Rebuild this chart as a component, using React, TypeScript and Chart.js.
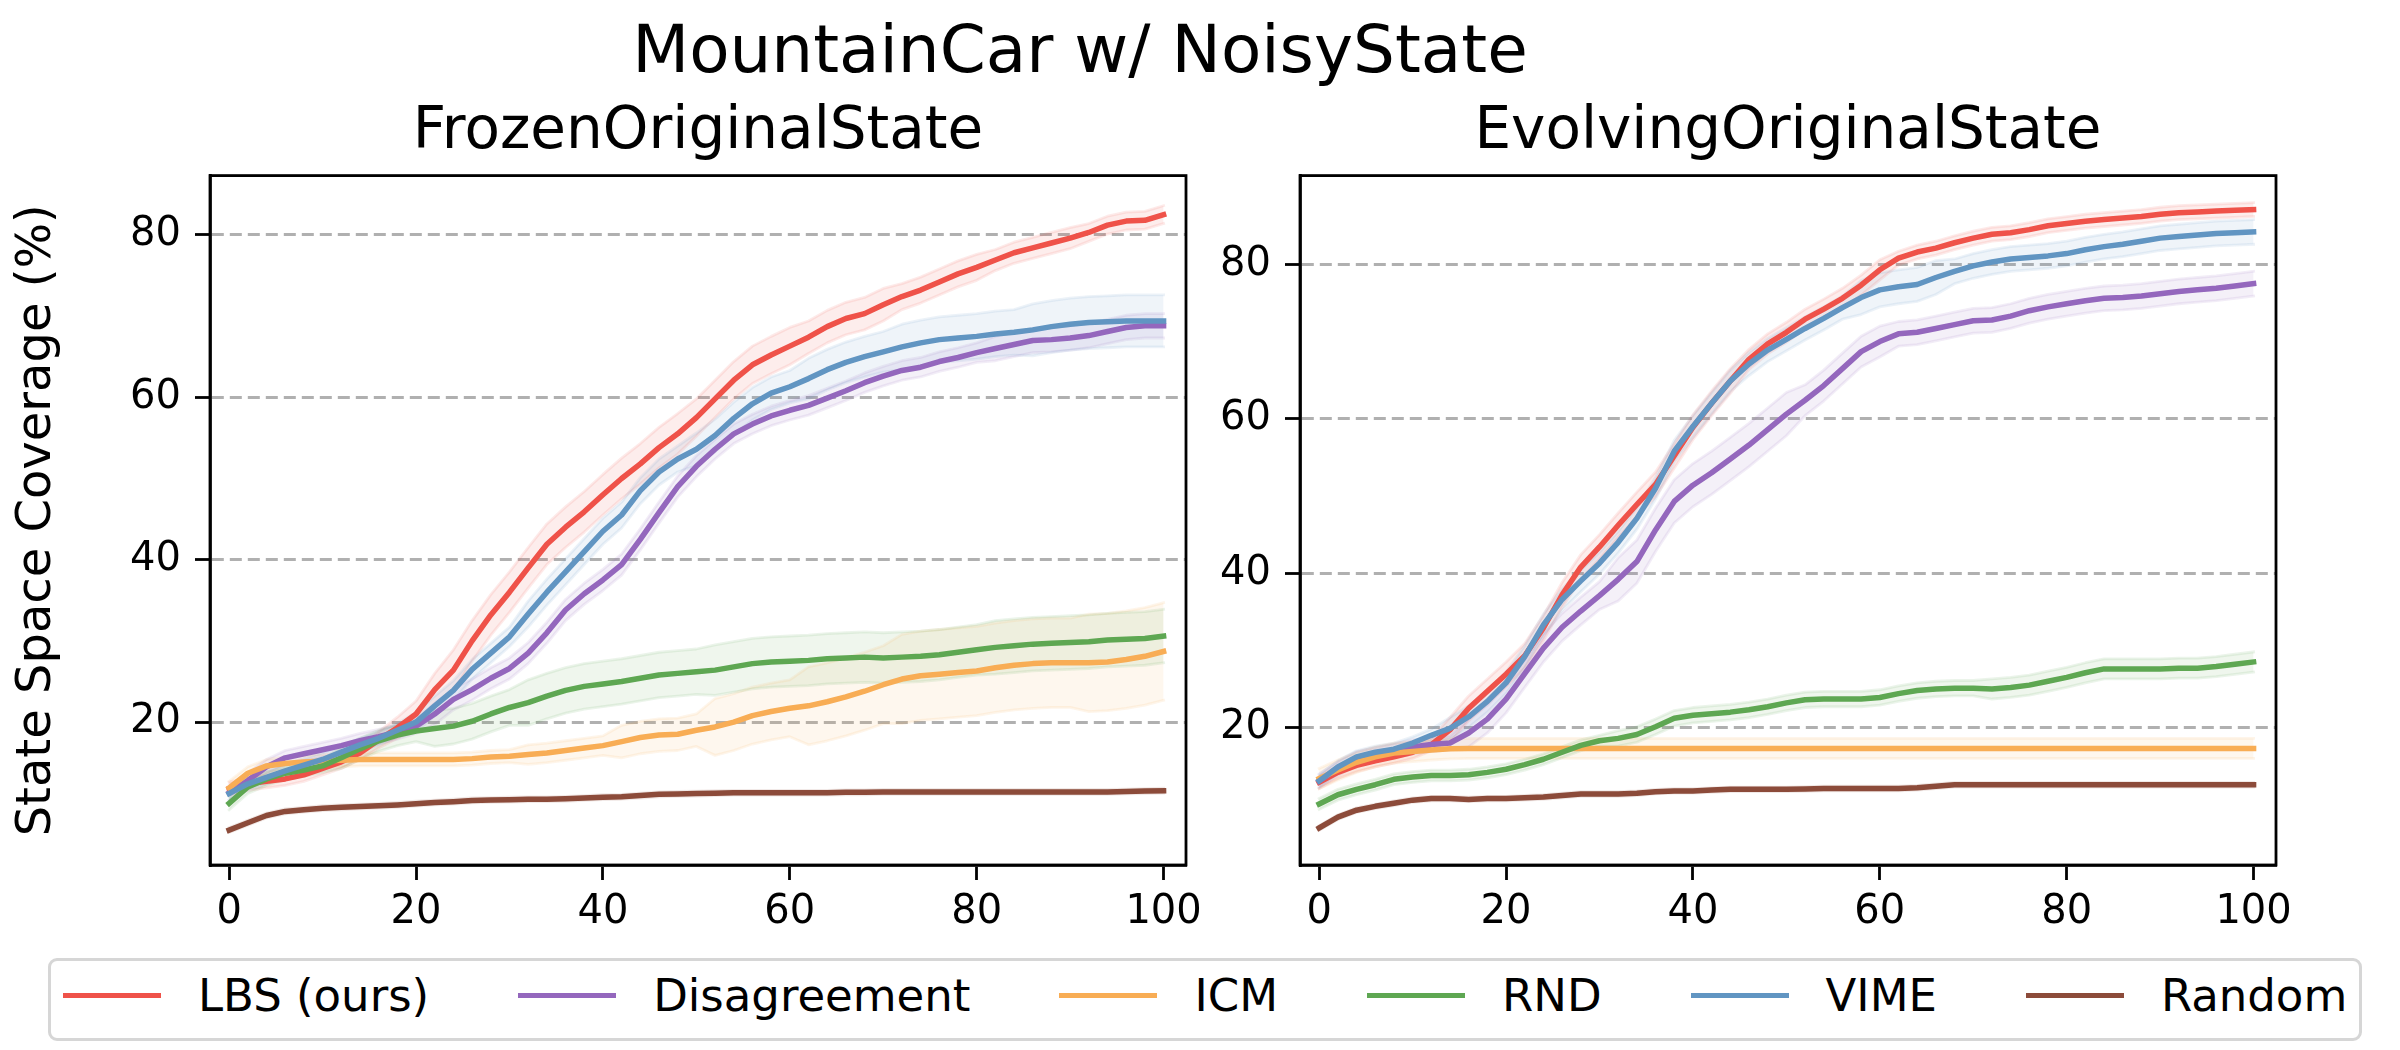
import React, { useEffect, useRef } from "react";
import { Chart, registerables } from "chart.js";

Chart.register(...registerables);

const FONT = "'DejaVu Sans', 'Noto Sans', sans-serif";

// ---------------- data ----------------
const xValues = [0, 2, 4, 6, 8, 10, 12, 14, 16, 18, 20, 22, 24, 26, 28, 30, 32, 34, 36, 38, 40, 42, 44, 46, 48, 50,
  52, 54, 56, 58, 60, 62, 64, 66, 68, 70, 72, 74, 76, 78, 80, 82, 84, 86, 88, 90, 92, 94, 96, 98, 100];
const xTicks = [0, 20, 40, 60, 80, 100];
const yTicks = [20, 40, 60, 80];

const seriesNames = ["LBS (ours)", "Disagreement", "ICM", "RND", "VIME", "Random"];
const seriesColors = ["#ef5249", "#9467bd", "#f8ad55", "#5ea752", "#6195c2", "#8c4b3a"];

const suptitleText = "MountainCar w/ NoisyState";
const leftTitle = "FrozenOriginalState";
const rightTitle = "EvolvingOriginalState";
const yLabel = "State Space Coverage (%)";

// FrozenOriginalState (left panel) means
const frozenLBS = [11.8, 12.4, 12.7, 13.0, 13.5, 14.3, 15.1, 16.2, 17.8, 19.3, 21.0, 24.0, 26.4, 30.0, 33.2, 36.0, 39.0,
  41.9, 44.0, 45.9, 48.0, 50.0, 51.8, 53.8, 55.5, 57.5, 59.8, 62.1, 64.0, 65.2, 66.3, 67.4, 68.7, 69.7, 70.3, 71.4, 72.4,
  73.2, 74.2, 75.2, 76.0, 76.9, 77.8, 78.4, 79.0, 79.6, 80.3, 81.2, 81.7, 81.8, 82.5];
const frozenDis = [11.3, 12.8, 14.5, 15.6, 16.1, 16.6, 17.1, 17.7, 18.2, 18.8, 19.5, 21.0, 22.8, 24.0, 25.4, 26.6, 28.5,
  31.0, 33.8, 35.8, 37.5, 39.4, 42.5, 45.8, 49.0, 51.5, 53.6, 55.5, 56.7, 57.7, 58.4, 59.0, 59.9, 60.8, 61.8, 62.6, 63.3,
  63.7, 64.4, 64.9, 65.5, 66.0, 66.5, 67.0, 67.1, 67.3, 67.6, 68.1, 68.6, 68.8, 68.8];
const frozenICM = [11.9, 13.7, 14.6, 14.9, 15.1, 15.2, 15.3, 15.4, 15.4, 15.4, 15.4, 15.4, 15.4, 15.5, 15.7, 15.8, 16.0,
  16.2, 16.5, 16.8, 17.1, 17.6, 18.1, 18.4, 18.5, 19.0, 19.4, 20.0, 20.8, 21.3, 21.7, 22.0, 22.5, 23.1, 23.8, 24.6, 25.3,
  25.7, 25.9, 26.1, 26.3, 26.7, 27.0, 27.2, 27.3, 27.3, 27.3, 27.4, 27.7, 28.1, 28.7];
const frozenRND = [10.0, 12.0, 13.0, 13.7, 14.1, 14.6, 15.6, 16.7, 17.7, 18.4, 18.9, 19.2, 19.5, 20.1, 21.0, 21.8, 22.4,
  23.2, 23.9, 24.4, 24.7, 25.0, 25.4, 25.8, 26.0, 26.2, 26.4, 26.8, 27.2, 27.4, 27.5, 27.6, 27.8, 27.9, 28.0, 27.9, 28.0,
  28.1, 28.3, 28.6, 28.9, 29.2, 29.4, 29.6, 29.7, 29.8, 29.9, 30.1, 30.2, 30.3, 30.6];
const frozenVIME = [11.2, 12.4, 13.2, 14.0, 14.7, 15.4, 16.3, 17.2, 18.0, 19.0, 20.0, 22.0, 23.9, 26.5, 28.5, 30.5, 33.3,
  36.0, 38.5, 41.0, 43.5, 45.5, 48.5, 50.8, 52.4, 53.6, 55.3, 57.4, 59.2, 60.5, 61.3, 62.3, 63.4, 64.3, 65.0, 65.6, 66.2,
  66.7, 67.1, 67.3, 67.5, 67.8, 68.0, 68.3, 68.7, 69.0, 69.2, 69.3, 69.4, 69.4, 69.4];
const frozenRandom = [6.7, 7.6, 8.5, 9.0, 9.2, 9.4, 9.5, 9.6, 9.7, 9.8, 9.95, 10.1, 10.2, 10.35, 10.4, 10.45, 10.5, 10.5,
  10.55, 10.65, 10.75, 10.8, 10.95, 11.1, 11.15, 11.2, 11.25, 11.3, 11.3, 11.3, 11.3, 11.3, 11.3, 11.35, 11.35, 11.4, 11.4,
  11.4, 11.4, 11.4, 11.4, 11.4, 11.4, 11.4, 11.4, 11.4, 11.4, 11.4, 11.45, 11.5, 11.55];

// FrozenOriginalState spreads (half band width)
const frozenLBSStd = [0.8, 0.8, 0.8, 0.8, 0.8, 0.8, 0.8, 0.8, 1.0, 1.3, 1.6, 2.0, 2.5, 2.5, 2.5, 2.5, 2.5, 2.5, 2.5, 2.5,
  2.5, 2.5, 2.5, 2.5, 2.5, 2.3, 2.3, 2.3, 2.3, 2.3, 2.3, 2.0, 2.0, 2.0, 2.0, 2.0, 1.6, 1.6, 1.6, 1.6, 1.6, 1.3, 1.3, 1.3,
  1.3, 1.3, 1.1, 1.1, 1.1, 1.1, 1.1];
const frozenDisStd = [0.9, 0.9, 0.9, 0.9, 0.9, 0.9, 0.9, 0.9, 0.9, 0.9, 0.9, 1.3, 1.3, 1.3, 1.3, 1.3, 1.3, 1.3, 1.3, 1.3,
  1.3, 1.3, 1.3, 1.3, 1.3, 1.3, 1.2, 1.2, 1.2, 1.2, 1.2, 1.2, 1.2, 1.2, 1.2, 1.2, 1.2, 1.2, 1.2, 1.2, 1.2, 1.5, 1.5, 1.5,
  1.5, 1.5, 1.5, 1.5, 1.5, 1.5, 1.5];
const frozenICMStd = [0.8, 0.8, 0.8, 0.8, 0.8, 0.8, 0.8, 0.8, 0.8, 0.8, 0.8, 0.8, 0.8, 0.8, 0.8, 0.8, 1.2, 1.2, 1.2, 1.2,
  1.2, 2.0, 2.0, 2.0, 2.0, 2.0, 3.5, 3.5, 3.5, 3.5, 3.5, 4.8, 4.8, 4.8, 4.8, 4.8, 5.5, 5.5, 5.5, 5.5, 5.5, 5.5, 5.5, 5.5,
  5.5, 5.5, 6.0, 6.0, 6.0, 6.0, 6.0];
const frozenRNDStd = [0.8, 0.8, 0.8, 0.8, 0.8, 0.8, 1.3, 1.3, 1.3, 1.3, 1.3, 2.2, 2.2, 2.2, 2.2, 2.2, 2.8, 2.8, 2.8, 2.8,
  2.8, 2.8, 2.8, 2.8, 2.8, 2.8, 3.1, 3.1, 3.1, 3.1, 3.1, 3.1, 3.1, 3.1, 3.1, 3.1, 3.1, 3.1, 3.1, 3.1, 3.1, 3.3, 3.3, 3.3,
  3.3, 3.3, 3.3, 3.3, 3.3, 3.3, 3.3];
const frozenVIMEStd = [0.8, 0.8, 0.8, 0.8, 0.8, 0.8, 0.8, 0.8, 0.8, 0.8, 1.2, 1.2, 1.2, 1.2, 1.2, 1.2, 1.6, 1.6, 1.6, 1.6,
  1.6, 1.6, 1.6, 1.6, 1.6, 2.0, 2.0, 2.0, 2.0, 2.0, 2.0, 2.5, 2.5, 2.5, 2.5, 2.5, 2.8, 2.8, 2.8, 2.8, 2.8, 2.8, 2.8, 3.2,
  3.2, 3.2, 3.2, 3.2, 3.2, 3.2, 3.2];
const frozenRandomStd = [0.3, 0.3, 0.3, 0.3, 0.3, 0.3, 0.3, 0.3, 0.3, 0.3, 0.3, 0.3, 0.3, 0.3, 0.3, 0.3, 0.3, 0.3, 0.3,
  0.3, 0.3, 0.3, 0.3, 0.3, 0.3, 0.3, 0.3, 0.3, 0.3, 0.3, 0.3, 0.3, 0.3, 0.3, 0.3, 0.3, 0.3, 0.3, 0.3, 0.3, 0.3, 0.3, 0.3,
  0.3, 0.3, 0.3, 0.3, 0.3, 0.3, 0.3, 0.3];

// EvolvingOriginalState (right panel) means
const evolvingLBS = [12.9, 14.2, 15.1, 15.7, 16.2, 16.8, 17.8, 19.7, 22.5, 24.7, 26.9, 29.3, 32.9, 37.2, 40.8, 43.4, 46.2,
  48.9, 51.5, 55.2, 58.9, 62.0, 64.9, 67.7, 69.7, 71.2, 72.9, 74.2, 75.6, 77.3, 79.3, 80.8, 81.6, 82.1, 82.8, 83.4, 83.9,
  84.1, 84.5, 85.0, 85.3, 85.6, 85.8, 86.0, 86.2, 86.5, 86.7, 86.8, 86.9, 87.0, 87.1];
const evolvingDis = [13.1, 14.7, 16.0, 16.5, 17.0, 17.5, 17.8, 18.0, 19.3, 21.1, 23.7, 27.0, 30.3, 33.0, 35.1, 37.1, 39.2,
  41.5, 45.6, 49.3, 51.4, 53.0, 54.8, 56.6, 58.6, 60.6, 62.4, 64.3, 66.5, 68.7, 70.0, 71.0, 71.2, 71.7, 72.2, 72.7, 72.8,
  73.3, 74.0, 74.5, 74.9, 75.3, 75.6, 75.7, 75.9, 76.2, 76.5, 76.7, 76.9, 77.2, 77.5];
const evolvingICM = [13.4, 14.5, 15.5, 16.2, 16.7, 16.9, 17.1, 17.25, 17.3, 17.3, 17.3, 17.3, 17.3, 17.3, 17.3, 17.3, 17.3,
  17.3, 17.3, 17.3, 17.3, 17.3, 17.3, 17.3, 17.3, 17.3, 17.3, 17.3, 17.3, 17.3, 17.3, 17.3, 17.3, 17.3, 17.3, 17.3, 17.3,
  17.3, 17.3, 17.3, 17.3, 17.3, 17.3, 17.3, 17.3, 17.3, 17.3, 17.3, 17.3, 17.3, 17.3];
const evolvingRND = [10.1, 11.3, 12.0, 12.6, 13.3, 13.6, 13.8, 13.8, 13.9, 14.2, 14.6, 15.2, 15.9, 16.8, 17.7, 18.3, 18.6,
  19.1, 20.1, 21.2, 21.6, 21.8, 22.0, 22.3, 22.7, 23.2, 23.6, 23.7, 23.7, 23.7, 23.9, 24.4, 24.8, 25.0, 25.1, 25.1, 25.0,
  25.2, 25.5, 26.0, 26.5, 27.1, 27.6, 27.6, 27.6, 27.6, 27.7, 27.7, 27.9, 28.2, 28.5];
const evolvingVIME = [13.1, 14.9, 16.2, 16.8, 17.2, 18.0, 19.0, 19.9, 21.4, 23.4, 25.8, 29.2, 33.3, 36.6, 39.0, 41.3, 44.0,
  47.1, 51.0, 55.8, 59.0, 62.0, 64.9, 67.1, 68.9, 70.3, 71.7, 73.0, 74.4, 75.7, 76.7, 77.1, 77.4, 78.3, 79.1, 79.8, 80.3,
  80.7, 80.9, 81.1, 81.4, 81.9, 82.3, 82.6, 83.0, 83.4, 83.6, 83.8, 84.0, 84.1, 84.2];
const evolvingRandom = [7.0, 8.4, 9.3, 9.8, 10.2, 10.6, 10.8, 10.8, 10.7, 10.8, 10.8, 10.9, 11.0, 11.2, 11.4, 11.4, 11.4,
  11.5, 11.7, 11.8, 11.8, 11.9, 12.0, 12.0, 12.0, 12.0, 12.05, 12.1, 12.1, 12.1, 12.1, 12.1, 12.2, 12.4, 12.6, 12.6, 12.6,
  12.6, 12.6, 12.6, 12.6, 12.6, 12.6, 12.6, 12.6, 12.6, 12.6, 12.6, 12.6, 12.6, 12.6];

// EvolvingOriginalState spreads
const evolvingLBSStd = [0.8, 0.8, 0.8, 0.8, 0.8, 0.8, 0.8, 1.6, 1.6, 1.6, 1.6, 1.6, 1.6, 1.6, 1.6, 1.6, 1.6, 1.6, 1.6,
  1.6, 1.6, 1.6, 1.6, 1.3, 1.3, 1.3, 1.3, 1.3, 1.3, 1.3, 1.3, 0.9, 0.9, 0.9, 0.9, 0.9, 0.9, 0.9, 0.9, 0.9, 0.9, 0.9, 0.9,
  0.9, 0.9, 0.9, 0.9, 0.9, 0.9, 0.9, 0.9];
const evolvingDisStd = [0.9, 0.9, 0.9, 0.9, 0.9, 0.9, 0.9, 0.9, 1.8, 1.8, 1.8, 1.8, 1.8, 1.8, 1.8, 1.8, 2.8, 2.8, 2.8,
  2.8, 2.8, 2.8, 2.8, 2.8, 2.8, 2.8, 2.0, 2.0, 2.0, 2.0, 2.0, 1.6, 1.6, 1.6, 1.6, 1.6, 1.6, 1.6, 1.6, 1.6, 1.6, 1.6, 1.6,
  1.6, 1.6, 1.6, 1.6, 1.6, 1.6, 1.6, 1.6];
const evolvingICMStd = [1.3, 1.3, 1.3, 1.3, 1.3, 1.3, 1.3, 1.3, 1.3, 1.3, 1.3, 1.3, 1.3, 1.3, 1.3, 1.3, 1.3, 1.3, 1.3,
  1.3, 1.3, 1.3, 1.3, 1.3, 1.3, 1.3, 1.3, 1.3, 1.3, 1.3, 1.3, 1.3, 1.3, 1.3, 1.3, 1.3, 1.3, 1.3, 1.3, 1.3, 1.3, 1.3, 1.3,
  1.3, 1.3, 1.3, 1.3, 1.3, 1.3, 1.3, 1.3];
const evolvingRNDStd = [0.7, 0.7, 0.7, 0.7, 0.7, 0.7, 0.7, 0.7, 0.7, 0.7, 0.7, 0.7, 0.7, 0.7, 0.7, 0.7, 1.0, 1.0, 1.0,
  1.0, 1.0, 1.0, 1.0, 1.0, 1.0, 1.0, 1.0, 1.0, 1.0, 1.0, 1.0, 1.0, 1.0, 1.0, 1.0, 1.0, 1.3, 1.3, 1.3, 1.3, 1.3, 1.3, 1.3,
  1.3, 1.3, 1.3, 1.3, 1.3, 1.3, 1.3, 1.3];
const evolvingVIMEStd = [0.8, 0.8, 0.8, 0.8, 0.8, 0.8, 0.8, 1.4, 1.4, 1.4, 1.4, 1.4, 1.4, 1.4, 1.4, 1.4, 1.4, 1.4, 1.4,
  1.4, 1.4, 1.4, 1.4, 1.5, 1.5, 1.5, 1.5, 1.5, 1.5, 2.2, 2.2, 2.2, 2.2, 2.2, 1.6, 1.6, 1.6, 1.6, 1.6, 1.6, 1.6, 1.6, 1.6,
  1.6, 1.6, 1.6, 1.6, 1.6, 1.6, 1.6, 1.6];
const evolvingRandomStd = [0.3, 0.3, 0.3, 0.3, 0.3, 0.3, 0.3, 0.3, 0.3, 0.3, 0.3, 0.3, 0.3, 0.3, 0.3, 0.3, 0.3, 0.3, 0.3,
  0.3, 0.3, 0.3, 0.3, 0.3, 0.3, 0.3, 0.3, 0.3, 0.3, 0.3, 0.3, 0.3, 0.3, 0.3, 0.3, 0.3, 0.3, 0.3, 0.3, 0.3, 0.3, 0.3, 0.3,
  0.3, 0.3, 0.3, 0.3, 0.3, 0.3, 0.3, 0.3];

const frozenMeans = [frozenLBS, frozenDis, frozenICM, frozenRND, frozenVIME, frozenRandom];
const frozenStds = [frozenLBSStd, frozenDisStd, frozenICMStd, frozenRNDStd, frozenVIMEStd, frozenRandomStd];
const evolvingMeans = [evolvingLBS, evolvingDis, evolvingICM, evolvingRND, evolvingVIME, evolvingRandom];
const evolvingStds = [evolvingLBSStd, evolvingDisStd, evolvingICMStd, evolvingRNDStd, evolvingVIMEStd, evolvingRandomStd];

// ---------------- helpers ----------------
function rgba(hex: string, a: number) {
  const n = parseInt(hex.slice(1), 16);
  return `rgba(${(n >> 16) & 255},${(n >> 8) & 255},${n & 255},${a})`;
}

function buildDatasets(means: number[][], stds: number[][]) {
  const bands: any[] = [];
  const lines: any[] = [];
  means.forEach((m, k) => {
    const c = seriesColors[k];
    bands.push({
      label: seriesNames[k] + " upper",
      data: xValues.map((x, i) => ({ x, y: m[i] + stds[k][i] })),
      borderColor: rgba(c, 0.12),
      borderWidth: 2.8,
      backgroundColor: rgba(c, 0.1),
      fill: "+1",
      pointRadius: 0,
      order: 500 - 2 * k,
    });
    bands.push({
      label: seriesNames[k] + " lower",
      data: xValues.map((x, i) => ({ x, y: m[i] - stds[k][i] })),
      borderColor: rgba(c, 0.12),
      borderWidth: 2.8,
      backgroundColor: rgba(c, 0.1),
      fill: false,
      pointRadius: 0,
      order: 499 - 2 * k,
    });
    lines.push({
      label: seriesNames[k],
      data: xValues.map((x, i) => ({ x, y: m[i] })),
      borderColor: c,
      backgroundColor: c,
      borderWidth: 5.5,
      fill: false,
      pointRadius: 0,
      order: 100 - k,
    });
  });
  return [...bands, ...lines];
}

const framePlugin = {
  id: "frame",
  afterDraw(chart: any) {
    const { ctx, chartArea: a } = chart;
    ctx.save();
    ctx.strokeStyle = "#000";
    ctx.lineWidth = 2.8;
    ctx.strokeRect(a.left, a.top, a.right - a.left, a.bottom - a.top);
    ctx.restore();
  },
};

type PanelProps = {
  left: number;
  width: number;
  height: number;
  title: string;
  means: number[][];
  stds: number[][];
  yMin: number;
  yMax: number;
  yAxisWidth: number;
  rightPad: number;
  showYLabel: boolean;
};

function Panel(p: PanelProps) {
  const ref = useRef<HTMLCanvasElement | null>(null);
  useEffect(() => {
    if (!ref.current) return;
    const chart = new Chart(ref.current, {
      type: "line",
      data: { datasets: buildDatasets(p.means, p.stds) },
      options: {
        animation: false,
        responsive: false,
        maintainAspectRatio: false,
        layout: { padding: { left: 0, right: p.rightPad, top: 0, bottom: 0 } },
        elements: {
          line: { tension: 0, borderJoinStyle: "round", borderCapStyle: "square" },
          point: { radius: 0 },
        },
        plugins: {
          legend: { display: false },
          tooltip: { enabled: false },
          filler: { drawTime: "beforeDatasetsDraw" },
          title: {
            display: true,
            text: p.title,
            fullSize: false,
            color: "#000",
            font: { family: FONT, size: 58, weight: "normal" },
            padding: { top: 98, bottom: 8 },
          },
        },
        scales: {
          x: {
            type: "linear",
            min: -2.05,
            max: 102.4,
            afterBuildTicks: (s: any) => {
              s.ticks = xTicks.map((v) => ({ value: v }));
            },
            afterFit: (s: any) => {
              s.height = 85;
              s.paddingLeft = 0;
              s.paddingRight = 0;
            },
            ticks: {
              color: "#000",
              font: { family: FONT, size: 40 },
              padding: 9,
              maxRotation: 0,
              minRotation: 0,
              autoSkip: false,
              callback: (v: any) => String(v),
            },
            grid: {
              drawOnChartArea: false,
              drawTicks: true,
              tickLength: 15,
              tickWidth: 2.8,
              tickColor: "#000",
            },
            border: { display: true, color: "#000", width: 2.8 },
          },
          y: {
            type: "linear",
            min: p.yMin,
            max: p.yMax,
            afterBuildTicks: (s: any) => {
              s.ticks = yTicks.map((v) => ({ value: v }));
            },
            afterFit: (s: any) => {
              s.width = p.yAxisWidth;
              s.paddingTop = 0;
              s.paddingBottom = 0;
            },
            ticks: {
              color: "#000",
              font: { family: FONT, size: 40 },
              padding: 14,
              callback: (v: any) => String(v),
            },
            grid: {
              color: "#b0b0b0",
              lineWidth: 3,
              drawTicks: true,
              tickLength: 15,
              tickWidth: 2.8,
              tickColor: "#000",
              tickBorderDash: [],
            },
            border: { display: true, color: "#000", width: 2.8, dash: [12, 6] },
            title: {
              display: p.showYLabel,
              text: yLabel,
              color: "#000",
              font: { family: FONT, size: 48 },
              padding: { top: 9, bottom: 0 },
            },
          },
        },
      } as any,
      plugins: [framePlugin],
    });
    return () => chart.destroy();
  }, []);
  return (
    <canvas
      ref={ref}
      width={p.width}
      height={p.height}
      style={{ position: "absolute", left: p.left, top: 0, width: p.width, height: p.height }}
    />
  );
}

function Legend() {
  return (
    <div
      style={{
        position: "absolute",
        left: 48,
        top: 958,
        width: 2314,
        height: 83,
        boxSizing: "border-box",
        border: "3px solid #d6d6d6",
        borderRadius: 9,
        background: "#fff",
        display: "flex",
        alignItems: "center",
        paddingLeft: 12,
        paddingBottom: 8,
        fontFamily: FONT,
        fontSize: 45,
        color: "#000",
      }}
    >
      {seriesNames.map((name, k) => (
        <div
          key={name}
          style={{ display: "flex", alignItems: "center", marginLeft: k === 0 ? 0 : 89, whiteSpace: "nowrap" }}
        >
          <div style={{ width: 98, height: 5.5, background: seriesColors[k], marginRight: 37 }} />
          <span style={{ lineHeight: "normal" }}>{name}</span>
        </div>
      ))}
    </div>
  );
}

export default function App() {
  return (
    <div
      style={{
        position: "absolute",
        left: 0,
        top: 0,
        width: 2400,
        height: 1050,
        background: "#fff",
        overflow: "hidden",
        fontFamily: FONT,
      }}
    >
      <div
        style={{
          position: "absolute",
          left: 0,
          top: 17,
          width: 2160,
          textAlign: "center",
          fontSize: 66,
          lineHeight: "66px",
          whiteSpace: "nowrap",
          color: "#000",
        }}
      >
        {suptitleText}
      </div>
      <Panel
        left={0}
        width={1210}
        height={950}
        title={leftTitle}
        means={frozenMeans}
        stds={frozenStds}
        yMin={2.4}
        yMax={87.3}
        yAxisWidth={210}
        rightPad={24}
        showYLabel={true}
      />
      <Panel
        left={1210}
        width={1190}
        height={950}
        title={rightTitle}
        means={evolvingMeans}
        stds={evolvingStds}
        yMin={2.2}
        yMax={91.5}
        yAxisWidth={90}
        rightPad={124}
        showYLabel={false}
      />
      <Legend />
    </div>
  );
}
